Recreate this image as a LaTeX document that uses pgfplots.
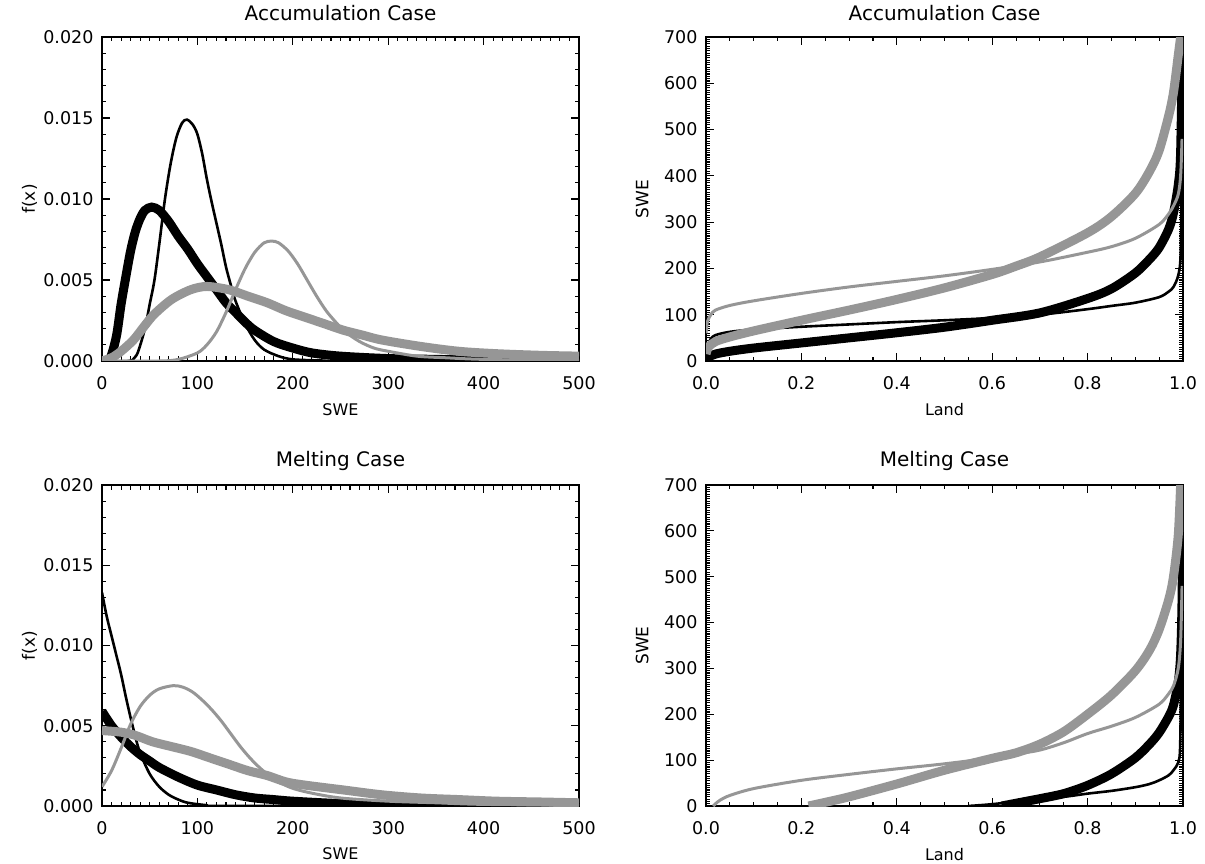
\documentclass[border=0pt]{standalone}
\usepackage{fontspec}
\setmainfont{DejaVu Sans}
\usepackage{pgfplots}
\pgfplotsset{compat=1.18}
\definecolor{lg}{RGB}{150,150,150}
\pgfplotsset{
  idl/.style={
    scale only axis, width=477pt, anchor=south west,
    axis line style={line width=1.3pt},
    every tick/.style={black, line width=1.1pt},
    major tick length=8pt, minor tick length=4.5pt,
    tick align=inside, xtick pos=both, ytick pos=both,
    xticklabel pos=lower, yticklabel pos=left,
    /pgf/number format/assume math mode=true,
    ticklabel style={font=\fontsize{17.5}{20}\selectfont},
    xticklabel style={anchor=center, yshift=-22pt},
    yticklabel style={anchor=east, xshift=-5pt},
    title style={font=\fontsize{20}{22}\selectfont, at={(axis description cs:0.5,1)}, anchor=center, yshift=18pt},
    xlabel style={font=\fontsize{16}{18}\selectfont, at={(axis description cs:0.5,-0.150)}, anchor=center},
    ylabel style={font=\fontsize{17}{19}\selectfont, anchor=center, rotate=0},
    thinb/.style={black, line width=2.6pt},
    thickb/.style={black, line width=9pt},
    thing/.style={lg, line width=3pt},
    thickg/.style={lg, line width=9pt},
  },
  pdf/.style={idl, xmin=0, xmax=500, ymin=0, ymax=0.02,
    xtick={0,100,...,500}, minor x tick num=9,
    ytick={0,0.005,0.01,0.015,0.02}, minor y tick num=4,
    scaled y ticks=false,
    yticklabel style={/pgf/number format/.cd, fixed, fixed zerofill, precision=3},
    ylabel style={at={(axis description cs:-0.152,0.5)}},
    xlabel={SWE}, ylabel={f(x)}},
  qq/.style={idl, xmin=0, xmax=1, ymin=0, ymax=700,
    xtick={0,0.2,...,1.0}, minor x tick num=3,
    ytick={0,100,...,700}, minor y tick num=19, minor tick length=4pt,
    xticklabel style={/pgf/number format/.cd, fixed, fixed zerofill, precision=1},
    ylabel style={at={(axis description cs:-0.134,0.5)}},
    xlabel={Land}, ylabel={SWE}},
}
\begin{document}
\begin{tikzpicture}
\useasboundingbox (0,0) rectangle (1205pt,863pt);
% ---------------- panel a
\begin{axis}[pdf, at={(102pt,502pt)}, height=324pt, title={Accumulation Case}]
\addplot[thinb, smooth] coordinates {(0,0) (28,0) (34,0.0002) (38,0.0006) (45,0.0020) (50,0.0035) (55,0.0050) (60,0.0072) (66,0.0100) (72,0.0122) (78,0.0138) (84,0.0147) (89,0.0149) (95,0.0146) (100,0.0140) (105,0.0128) (110,0.0112) (115,0.0098) (120,0.0085) (125,0.0072) (130,0.0058) (135,0.0047) (140,0.0037) (150,0.0023) (160,0.0013) (170,0.0007) (185,0.0003) (200,0.0001) (230,0.00003) (260,0) (500,0)};
\addplot[thickb, smooth] coordinates {(0,0) (8,0.0001) (15,0.0015) (20,0.0035) (25,0.0052) (30,0.0068) (35,0.0080) (40,0.0088) (45,0.0093) (52,0.0095) (60,0.0093) (70,0.0086) (80,0.0077) (90,0.0069) (100,0.0060) (110,0.0052) (120,0.0044) (130,0.0036) (140,0.0030) (150,0.0024) (160,0.0019) (180,0.0012) (200,0.0008) (220,0.0005) (250,0.0003) (300,0.00015) (350,0.0001) (400,0.00005) (500,0)};
\addplot[thing, smooth] coordinates {(0,0) (60,0) (80,0.0001) (100,0.0005) (110,0.0010) (120,0.0018) (130,0.0030) (140,0.0044) (150,0.0057) (160,0.0067) (170,0.0073) (178,0.0074) (185,0.0073) (195,0.0068) (205,0.0060) (215,0.0050) (225,0.0040) (235,0.0031) (245,0.0024) (255,0.0018) (270,0.0012) (285,0.0008) (300,0.0006) (330,0.0003) (360,0.0002) (400,0.0001) (500,0)};
\addplot[thickg, smooth] coordinates {(0,0) (10,0.0002) (20,0.0006) (33,0.0013) (45,0.0022) (55,0.0029) (73,0.0038) (93,0.0044) (110,0.0046) (133,0.0044) (153,0.0040) (173,0.0036) (193,0.0031) (213,0.0027) (233,0.0023) (253,0.0019) (273,0.0016) (293,0.0013) (334,0.0009) (374,0.0006) (414,0.00045) (460,0.00035) (500,0.0003)};
\node[font=\bfseries\fontsize{18}{20}\selectfont] at (axis description cs:-0.168,-0.127) {a};
\end{axis}
% ---------------- panel b
\begin{axis}[qq, at={(706pt,502pt)}, height=324pt, title={Accumulation Case}]
\addplot[thinb, smooth] coordinates {(0.0,5) (0.005,35) (0.01,48) (0.02,56) (0.05,63) (0.1,68) (0.2,74) (0.3,79) (0.4,84) (0.5,88) (0.6,93) (0.7,100) (0.8,112) (0.85,119) (0.9,126) (0.95,138) (0.97,150) (0.98,160) (0.99,185) (0.995,230) (0.997,400) (0.998,640)};
\addplot[thickb, smooth] coordinates {(0,0) (0.005,8) (0.02,15) (0.05,21) (0.1,28) (0.2,39) (0.3,50) (0.4,61) (0.5,73) (0.6,88) (0.7,104) (0.8,135) (0.85,156) (0.9,190) (0.93,220) (0.95,245) (0.97,285) (0.98,320) (0.99,380) (0.995,450) (0.999,700)};
\addplot[thing, smooth] coordinates {(0,60) (0.003,85) (0.01,100) (0.02,110) (0.05,120) (0.1,130) (0.2,146) (0.3,160) (0.4,172) (0.5,184) (0.6,198) (0.7,214) (0.8,235) (0.85,247) (0.9,265) (0.95,295) (0.97,318) (0.98,335) (0.99,360) (0.995,400) (0.998,480)};
\addplot[thickg, smooth] coordinates {(0,15) (0.005,30) (0.02,42) (0.05,52) (0.1,65) (0.2,88) (0.3,110) (0.4,133) (0.5,158) (0.6,187) (0.65,205) (0.7,225) (0.8,277) (0.85,312) (0.9,362) (0.93,410) (0.95,455) (0.97,530) (0.98,580) (0.99,660) (0.995,700)};
\node[font=\bfseries\fontsize{18}{20}\selectfont] at (axis description cs:-0.128,-0.127) {b};
\end{axis}
% ---------------- panel c
\begin{axis}[pdf, at={(102pt,57pt)}, height=321pt, title={Melting Case}]
\addplot[thinb, smooth] coordinates {(0,0.0133) (5,0.0118) (10,0.0106) (15,0.0094) (20,0.0082) (25,0.0068) (30,0.0055) (35,0.0043) (40,0.0033) (50,0.0020) (60,0.0012) (70,0.0007) (80,0.0004) (90,0.0002) (110,0.00005) (130,0) (500,0)};
\addplot[thickb, smooth] coordinates {(0,0.0059) (10,0.0050) (20,0.0043) (30,0.0037) (40,0.0032) (50,0.0028) (60,0.0024) (80,0.0018) (100,0.0013) (120,0.0010) (140,0.0007) (160,0.0005) (180,0.0004) (200,0.0003) (250,0.00015) (300,0.0001) (350,0.00003) (500,0)};
\addplot[thing, smooth] coordinates {(0,0.0012) (10,0.0022) (20,0.0036) (30,0.0051) (40,0.0062) (50,0.0069) (60,0.0073) (75,0.0075) (85,0.0074) (95,0.0071) (105,0.0066) (115,0.0060) (125,0.0053) (135,0.0045) (145,0.0037) (155,0.0030) (165,0.0024) (175,0.0019) (185,0.0015) (200,0.0011) (220,0.0008) (250,0.0005) (300,0.0003) (350,0.0002) (400,0.0001) (500,0.00005)};
\addplot[thickg, smooth] coordinates {(0,0.0047) (20,0.0046) (35,0.0044) (53,0.0040) (73,0.0037) (93,0.0034) (113,0.0030) (133,0.0026) (153,0.0022) (173,0.0019) (193,0.0015) (213,0.0013) (253,0.0010) (293,0.0007) (334,0.0005) (374,0.0004) (414,0.0003) (460,0.00025) (500,0.0002)};
\node[font=\bfseries\fontsize{18}{20}\selectfont] at (axis description cs:-0.155,-0.121) {c};
\end{axis}
% ---------------- panel d
\begin{axis}[qq, at={(706pt,57pt)}, height=321pt, title={Melting Case}]
\addplot[thinb, smooth] coordinates {(0.55,0) (0.6,4) (0.67,12) (0.75,20) (0.8,27) (0.85,33) (0.9,41) (0.93,48) (0.95,56) (0.97,67) (0.98,78) (0.99,95) (0.994,130) (0.996,300) (0.997,540)};
\addplot[thickb, smooth] coordinates {(0.62,0) (0.67,10) (0.7,16) (0.75,27) (0.8,45) (0.85,70) (0.9,105) (0.93,135) (0.95,160) (0.97,195) (0.98,220) (0.99,270) (0.995,330) (0.998,450) (1.0,700)};
\addplot[thing, smooth] coordinates {(0.015,0) (0.02,5) (0.03,13) (0.05,23) (0.1,38) (0.2,56) (0.3,69) (0.4,81) (0.5,92) (0.6,105) (0.65,113) (0.7,122) (0.75,138) (0.8,158) (0.85,174) (0.9,193) (0.95,222) (0.97,245) (0.98,262) (0.99,300) (0.995,360) (0.998,480)};
\addplot[thickg, smooth] coordinates {(0.215,0) (0.25,8) (0.3,20) (0.4,48) (0.5,78) (0.6,104) (0.65,116) (0.7,135) (0.75,162) (0.8,200) (0.85,242) (0.9,295) (0.93,340) (0.95,385) (0.97,450) (0.98,500) (0.99,590) (0.995,700)};
\node[font=\bfseries\fontsize{18}{20}\selectfont] at (axis description cs:-0.128,-0.121) {d};
\end{axis}
\end{tikzpicture}
\end{document}
